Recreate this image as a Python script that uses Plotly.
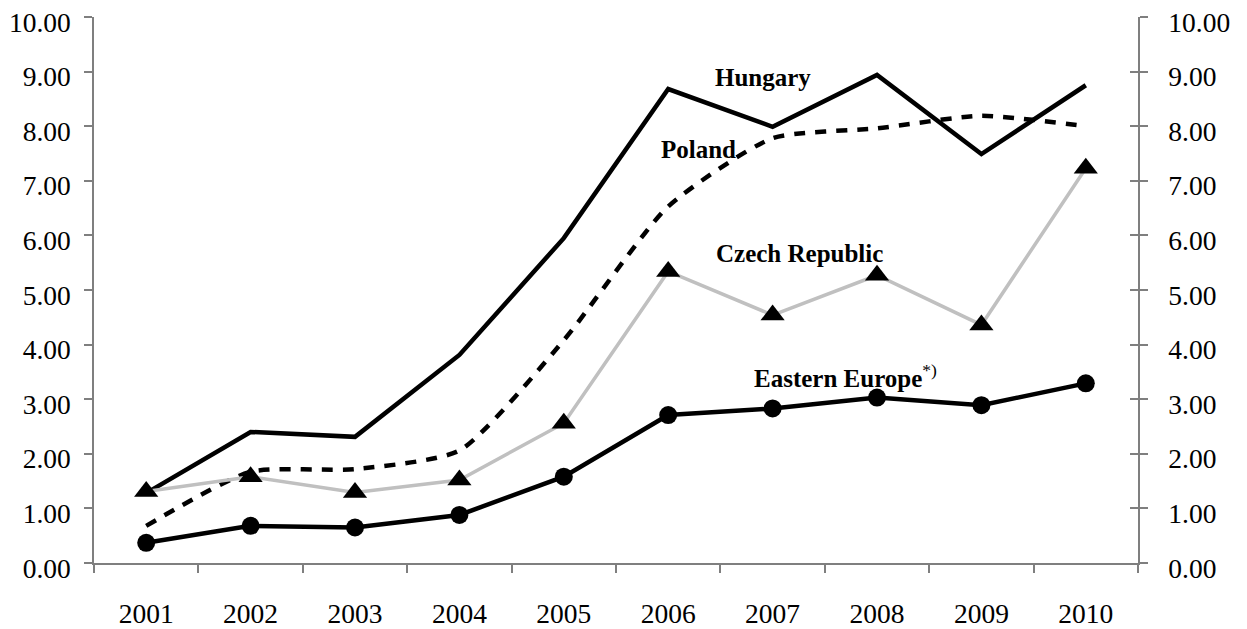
import plotly.graph_objects as go

years = ["2001", "2002", "2003", "2004", "2005", "2006", "2007", "2008", "2009", "2010"]
hungary = [1.28, 2.40, 2.31, 3.81, 5.95, 8.68, 7.99, 8.94, 7.49, 8.75]
poland = [0.68, 1.67, 1.72, 2.06, 4.08, 6.53, 7.78, 7.96, 8.19, 8.00]
czech = [1.31, 1.58, 1.29, 1.52, 2.56, 5.34, 4.54, 5.27, 4.36, 7.23]
eastern = [0.37, 0.68, 0.65, 0.88, 1.58, 2.71, 2.83, 3.03, 2.89, 3.29]
y_ticks = [0, 1, 2, 3, 4, 5, 6, 7, 8, 9, 10]
y_tick_text = ["%.2f" % v for v in y_ticks]

FONT = "Liberation Serif, Times New Roman, serif"
AXIS_COLOR = "#7f7f7f"
TICK_SIZE = 27.5

fig = go.Figure()
fig.add_trace(go.Scatter(x=years, y=hungary, mode="lines", name="Hungary",
                         line=dict(color="black", width=4.5), yaxis="y"))
fig.add_trace(go.Scatter(x=years, y=poland, mode="lines", name="Poland",
                         line=dict(color="black", width=4.5, dash="11px,10px",
                                   shape="spline", smoothing=0.6), yaxis="y"))
fig.add_trace(go.Scatter(x=years, y=czech, mode="lines+markers", name="Czech Republic",
                         line=dict(color="#c0c0c0", width=3.5),
                         marker=dict(symbol="triangle-up", size=21, color="black"),
                         yaxis="y2"))
fig.add_trace(go.Scatter(x=years, y=eastern, mode="lines+markers", name="Eastern Europe",
                         line=dict(color="black", width=4.5),
                         marker=dict(symbol="circle", size=18, color="black"),
                         yaxis="y3"))

common_y = dict(range=[0, 10], tickmode="array", tickvals=y_ticks, showgrid=False,
                zeroline=False, fixedrange=True, automargin=False,
                ticklabeloverflow="allow")

# The page body has an 8px margin, so the figure is shrunk by that offset.
fig.update_layout(
    width=1239, height=621,
    margin=dict(l=86, r=109, t=9, b=66, autoexpand=False),
    paper_bgcolor="white", plot_bgcolor="white",
    showlegend=False,
    font=dict(family=FONT, size=TICK_SIZE, color="black"),
    xaxis=dict(type="category", range=[-0.5, 9.5], showline=True, linecolor=AXIS_COLOR,
               linewidth=1.5, ticks="outside", ticklen=8, tickcolor=AXIS_COLOR,
               tickwidth=1.5, tickson="boundaries", showgrid=False, zeroline=False,
               automargin=False, ticklabelstandoff=25,
               tickfont=dict(family=FONT, size=TICK_SIZE)),
    yaxis=dict(**common_y, side="left", showline=True, linecolor=AXIS_COLOR, linewidth=1.5,
               ticks="outside", ticklen=8, tickcolor=AXIS_COLOR, tickwidth=1.5,
               ticktext=y_tick_text, ticklabelstandoff=8, ticklabelshift=5,
               tickfont=dict(family=FONT, size=TICK_SIZE)),
    yaxis2=dict(**common_y, side="right", overlaying="y", anchor="x", showline=True,
                linecolor=AXIS_COLOR, linewidth=1.5, ticks="outside", ticklen=8,
                tickcolor=AXIS_COLOR, tickwidth=1.5, ticktext=y_tick_text,
                ticklabelstandoff=15, ticklabelshift=5,
                tickfont=dict(family=FONT, size=TICK_SIZE)),
    yaxis3=dict(**common_y, side="right", overlaying="y", anchor="x", showline=False,
                ticks="inside", ticklen=8, tickcolor=AXIS_COLOR, tickwidth=1.5,
                showticklabels=False),
)

label_font = dict(family=FONT, size=25, color="black")
fig.add_annotation(x=5.91, y=8.9, xref="x", yref="y", text="<b>Hungary</b>",
                   showarrow=False, font=label_font)
fig.add_annotation(x=5.29, y=7.58, xref="x", yref="y", text="<b>Poland</b>",
                   showarrow=False, font=label_font)
fig.add_annotation(x=6.26, y=5.66, xref="x", yref="y", text="<b>Czech Republic</b>",
                   showarrow=False, font=label_font)
fig.add_annotation(x=5.80, y=3.42, xref="x", yref="y", xanchor="left",
                   text="<b>Eastern Europe</b><sup>*)</sup>",
                   showarrow=False, font=label_font)

fig.write_html("out.html")
